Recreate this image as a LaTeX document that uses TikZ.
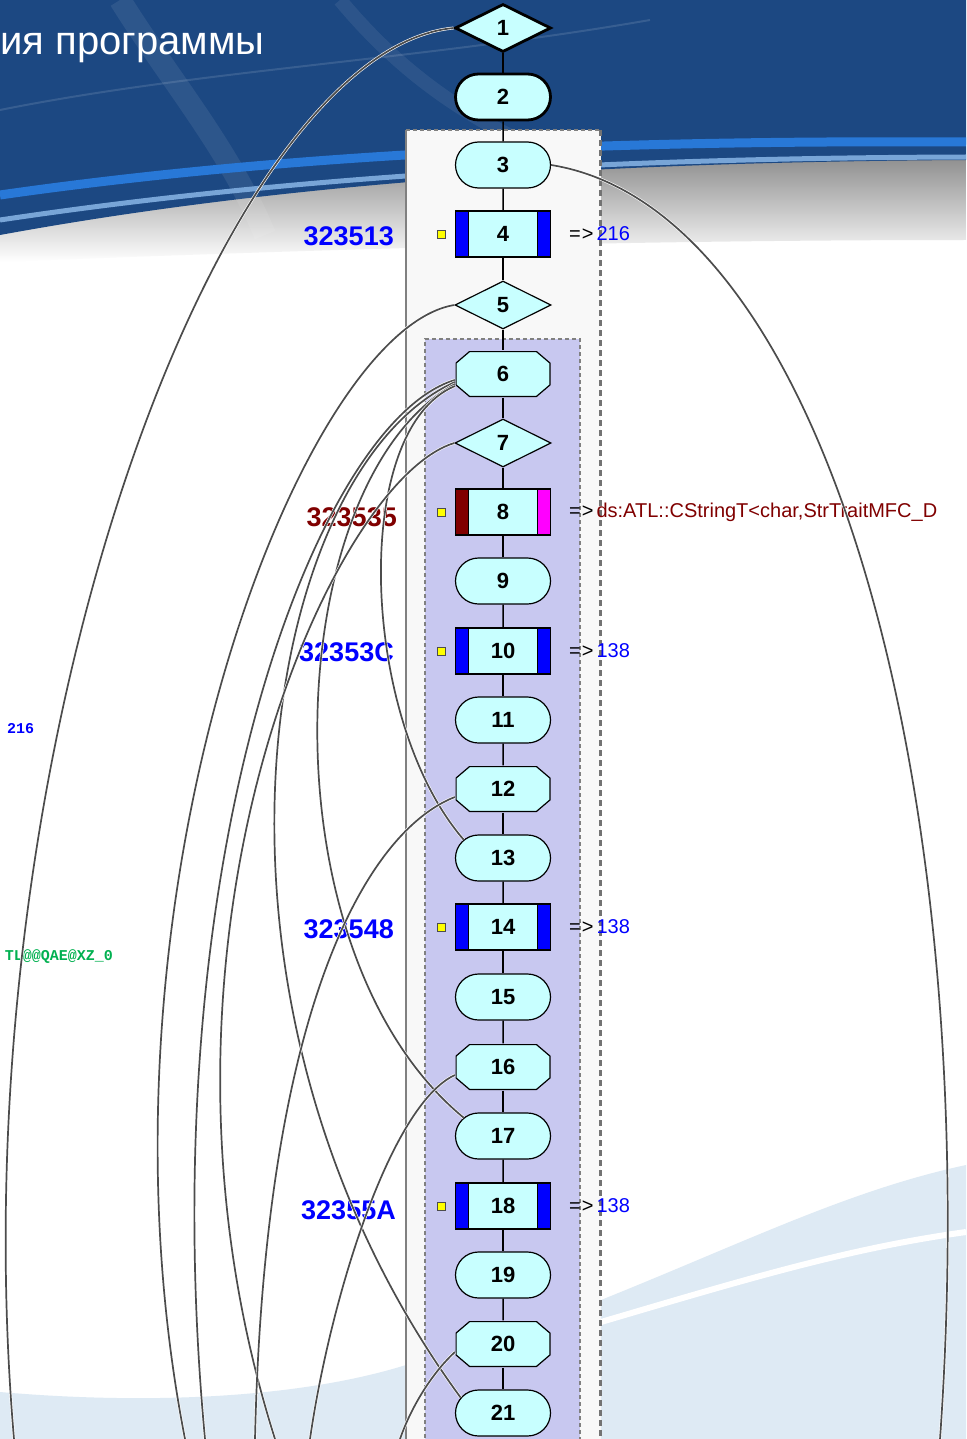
\documentclass[tikz,border=0pt]{standalone}
\usepackage{fontspec}
\setmainfont{Liberation Sans}
\newfontfamily\monofont{Liberation Mono}
\usetikzlibrary{shapes.geometric, shapes.misc}

\definecolor{nodecyan}{RGB}{200,255,255}
\definecolor{lavender}{RGB}{200,200,240}
\definecolor{boxgray}{RGB}{248,248,248}
\definecolor{addrblue}{RGB}{0,0,255}
\definecolor{addrred}{RGB}{128,0,0}
\definecolor{barpink}{RGB}{255,0,255}
\definecolor{pinyellow}{RGB}{255,255,0}
\definecolor{symgreen}{RGB}{0,176,80}
\definecolor{hdrblue}{RGB}{28,72,130}
\definecolor{hdrlight}{RGB}{40,120,215}
\definecolor{hdrpale}{RGB}{120,165,215}
\definecolor{swoosh}{RGB}{222,234,244}

\begin{document}
\begin{tikzpicture}[x=1pt, y=-1pt,
    blk/.style={draw=black, line width=1.2pt, fill=nodecyan, inner sep=0pt,
                font=\bfseries\fontsize{22}{22}\selectfont,
                minimum width=95pt, minimum height=46pt},
    term/.style={blk, rounded rectangle},
    dec/.style={blk, diamond, minimum width=96pt, minimum height=48pt},
    oct/.style={blk, draw=none, fill=none, path picture={
        \filldraw[fill=nodecyan, draw=black, line width=1.2pt]
            ([shift={(14pt,-0.6pt)}]path picture bounding box.north west)
            -- ([shift={(-14pt,-0.6pt)}]path picture bounding box.north east)
            -- ([shift={(-0.6pt,-12pt)}]path picture bounding box.north east)
            -- ([shift={(-0.6pt,12pt)}]path picture bounding box.south east)
            -- ([shift={(-14pt,0.6pt)}]path picture bounding box.south east)
            -- ([shift={(14pt,0.6pt)}]path picture bounding box.south west)
            -- ([shift={(0.6pt,12pt)}]path picture bounding box.south west)
            -- ([shift={(0.6pt,-12pt)}]path picture bounding box.north west)
            -- cycle;}},
    call/.style 2 args={blk, path picture={
        \fill[#1, draw=black] (path picture bounding box.south west)
            rectangle ([xshift=13pt]path picture bounding box.north west);
        \fill[#2, draw=black] (path picture bounding box.south east)
            rectangle ([xshift=-13pt]path picture bounding box.north east);}},
    entry/.style={line width=2.8pt},
    flow/.style={draw=black, line width=1.5pt},
    jump/.style={draw=white, double=black!70, line width=0.6pt, double distance=1.7pt},
    addr/.style={font=\bfseries\fontsize{27}{27}\selectfont, anchor=east, inner sep=0pt},
    tgt/.style={font=\fontsize{20}{20}\selectfont, anchor=west, inner sep=0pt},
    sym/.style={font=\monofont\bfseries\fontsize{15}{15}\selectfont, inner sep=0pt},
    pin/.style={draw=black!70, fill=pinyellow, minimum size=8pt, inner sep=0pt}
]
\useasboundingbox (0,0) rectangle (966,1439);

% slide background
\fill[white] (0,0) rectangle (966,1439);
\shade[top color=black!45, bottom color=white]
    (0,225) .. controls (300,175) and (620,158) .. (966,155)
    -- (966,240) .. controls (620,240) and (300,250) .. (0,262) -- cycle;
\fill[hdrblue] (0,0) -- (966,0) -- (966,160)
    .. controls (620,162) and (300,180) .. (0,235) -- cycle;
\draw[white, opacity=0.08, line width=22pt] (120,0) .. controls (170,80) and (230,150) .. (265,235);
\draw[white, opacity=0.07, line width=14pt] (340,0) .. controls (390,60) and (450,110) .. (540,150);
\draw[white, opacity=0.12, line width=2pt] (0,110) .. controls (200,70) and (420,60) .. (650,20);
\draw[line width=9pt, hdrlight] (0,195) .. controls (300,152) and (620,140) .. (966,142);
\draw[line width=5pt, hdrpale] (0,220) .. controls (300,175) and (620,158) .. (966,157);
\fill[swoosh] (601,1300) .. controls (750,1240) and (850,1190) .. (966,1165)
    -- (966,1439) -- (601,1439) -- cycle;
\draw[white, line width=6pt] (601,1322) .. controls (750,1278) and (850,1248) .. (966,1232);
\fill[swoosh] (0,1392) .. controls (150,1405) and (300,1398) .. (406,1365)
    -- (406,1439) -- (0,1439) -- cycle;

\node[anchor=base west, text=white, inner sep=0pt, font=\fontsize{40}{40}\selectfont]
    (title) at (0,55) {ия программы};

% loop containers
\fill[boxgray] (406,130) rectangle (601,1445);
\draw[gray, line width=1.5pt] (406,1445) -- (406,130);
\draw[gray, line width=1.2pt, dash pattern=on 4pt off 3pt] (406,130) -- (601,130);
\draw[black!55, line width=3pt, dash pattern=on 6pt off 4pt] (600,130) -- (600,1445);
\fill[lavender] (425,339) rectangle (580,1445);
\draw[gray, line width=1.2pt, dash pattern=on 4pt off 3pt]
    (425,1445) -- (425,339) -- (580,339) -- (580,1445);

% blocks
\node[dec, entry]               (n1)  at (503,28)   {1};
\node[term, entry]              (n2)  at (503,97)   {2};
\node[term]                     (n3)  at (503,165)  {3};
\node[call={addrblue}{addrblue}] (n4) at (503,234)  {4};
\node[dec]                      (n5)  at (503,305)  {5};
\node[oct]                      (n6)  at (503,374)  {6};
\node[dec]                      (n7)  at (503,443)  {7};
\node[call={addrred}{barpink}]  (n8)  at (503,512)  {8};
\node[term]                     (n9)  at (503,581)  {9};
\node[call={addrblue}{addrblue}] (n10) at (503,651) {10};
\node[term]                     (n11) at (503,720)  {11};
\node[oct]                      (n12) at (503,789)  {12};
\node[term]                     (n13) at (503,858)  {13};
\node[call={addrblue}{addrblue}] (n14) at (503,927) {14};
\node[term]                     (n15) at (503,997)  {15};
\node[oct]                      (n16) at (503,1067) {16};
\node[term]                     (n17) at (503,1136) {17};
\node[call={addrblue}{addrblue}] (n18) at (503,1206) {18};
\node[term]                     (n19) at (503,1275) {19};
\node[oct]                      (n20) at (503,1344) {20};
\node[term]                     (n21) at (503,1413) {21};

% call markers
\node[addr, text=addrblue] (a4)  at (394,236)  {323513};
\node[addr, text=addrred]  (a8)  at (397,517)  {323535};
\node[addr, text=addrblue] (a10) at (394,652)  {32353C};
\node[addr, text=addrblue] (a14) at (394,929)  {323548};
\node[addr, text=addrblue] (a18) at (396,1210) {32355A};
\node[pin] (p4)  at (441,234)  {};
\node[pin] (p8)  at (441,512)  {};
\node[pin] (p10) at (441,651)  {};
\node[pin] (p14) at (441,927)  {};
\node[pin] (p18) at (441,1206) {};
\node[tgt] (t4)  at (569,234)  {=\kern1pt>\kern3pt\textcolor{addrblue}{216}};
\node[tgt] (t8)  at (569,512)  {=\kern1pt>\kern3pt\textcolor{addrred}{ds:ATL::CStringT<char,StrTraitMFC\_D}};
\node[tgt] (t10) at (569,651)  {=\kern1pt>\kern3pt\textcolor{addrblue}{138}};
\node[tgt] (t14) at (569,927)  {=\kern1pt>\kern3pt\textcolor{addrblue}{138}};
\node[tgt] (t18) at (569,1206) {=\kern1pt>\kern3pt\textcolor{addrblue}{138}};
\node[sym, anchor=west, text=addrblue] (s216) at (7,729)   {216};
\node[sym, anchor=east, text=symgreen] (sxz)  at (113,957) {TL@@QAE@XZ\_0};

% flow
\draw[flow] (n1) -- (n2);   \draw[flow] (n2) -- (n3);   \draw[flow] (n3) -- (n4);
\draw[flow] (n4) -- (n5);   \draw[flow] (n5) -- (n6);   \draw[flow] (n6) -- (n7);
\draw[flow] (n7) -- (n8);   \draw[flow] (n8) -- (n9);   \draw[flow] (n9) -- (n10);
\draw[flow] (n10) -- (n11); \draw[flow] (n11) -- (n12); \draw[flow] (n12) -- (n13);
\draw[flow] (n13) -- (n14); \draw[flow] (n14) -- (n15); \draw[flow] (n15) -- (n16);
\draw[flow] (n16) -- (n17); \draw[flow] (n17) -- (n18); \draw[flow] (n18) -- (n19);
\draw[flow] (n19) -- (n20); \draw[flow] (n20) -- (n21);

% jumps
\coordinate (e1)  at (14,1439);
\coordinate (e3)  at (940,1439);
\coordinate (e5)  at (185,1439);
\coordinate (e6)  at (205,1439);
\coordinate (e7)  at (275,1439);
\coordinate (e12) at (255,1439);
\coordinate (e16) at (310,1439);
\coordinate (e20) at (400,1439);
\draw[jump] (n1.west) .. controls (220,50) and (-45,750) .. (e1);
\draw[jump] (n3.east) .. controls (830,210) and (985,800) .. (e3);
\draw[jump] (n5.west) .. controls (300,330) and (80,900) .. (e5);
\draw[jump] ([yshift=-6pt]n6.west) .. controls (320,420) and (150,850) .. (e6);
\draw[jump] ([yshift=-8pt]n6.west) .. controls (260,470) and (170,1000) .. (n21.160);
\draw[jump] ([yshift=-10pt]n6.west) .. controls (280,480) and (260,950) .. (n17.155);
\draw[jump] ([yshift=-12pt]n6.west) .. controls (350,430) and (360,720) .. (n13.155);
\draw[jump] (n7.west) .. controls (330,480) and (120,950) .. (e7);
\draw[jump] ([yshift=-8pt]n12.west) .. controls (370,830) and (265,1000) .. (e12);
\draw[jump] ([yshift=-8pt]n16.west) .. controls (390,1105) and (330,1300) .. (e16);
\draw[jump] ([yshift=-8pt]n20.west) .. controls (430,1375) and (410,1410) .. (e20);

\end{tikzpicture}
\end{document}
